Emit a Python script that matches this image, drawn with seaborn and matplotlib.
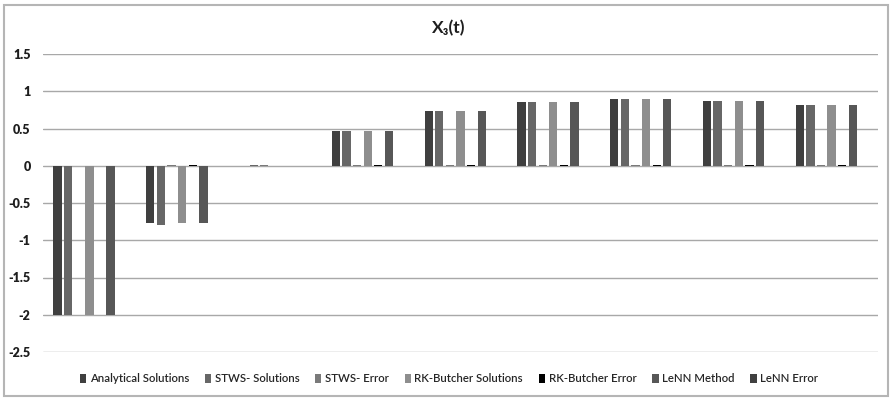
import numpy as np
import pandas as pd
import seaborn as sns
import matplotlib
matplotlib.use("Agg")
import matplotlib.pyplot as plt
from matplotlib.patches import Rectangle

# time steps (nine groups of bars)
steps = ["t1", "t2", "t3", "t4", "t5", "t6", "t7", "t8", "t9"]

analytical = [-2.0, -0.77, 0.0, 0.47, 0.73, 0.85, 0.89, 0.87, 0.81]
stws_sol = [-2.0, -0.79, 0.012, 0.47, 0.73, 0.85, 0.89, 0.87, 0.81]
stws_err = [0.0, 0.012, 0.012, 0.012, 0.012, 0.012, 0.012, 0.012, 0.012]
rk_sol = [-2.0, -0.77, 0.0, 0.47, 0.73, 0.85, 0.89, 0.87, 0.81]
rk_err = [0.0, 0.012, 0.0, 0.012, 0.012, 0.012, 0.012, 0.012, 0.012]
lenn_sol = [-2.0, -0.77, 0.0, 0.47, 0.73, 0.85, 0.89, 0.87, 0.81]
lenn_err = [0.0, 0.0, 0.0, 0.0, 0.0, 0.0, 0.0, 0.0, 0.0]

series_names = ["Analytical Solutions", "STWS- Solutions", "STWS- Error",
                "RK-Butcher Solutions", "RK-Butcher Error", "LeNN Method", "LeNN Error"]
series_values = [analytical, stws_sol, stws_err, rk_sol, rk_err, lenn_sol, lenn_err]
series_colors = ["#3f3f3f", "#676767", "#7a7a7a", "#8e8e8e", "#000000", "#575757", "#404040"]

df = pd.DataFrame(
    [(s, name, v) for name, vals in zip(series_names, series_values) for s, v in zip(steps, vals)],
    columns=["step", "series", "value"],
)

sns.set_theme(style="white")
plt.rcParams["font.family"] = ["Lato", "DejaVu Sans"]

fig = plt.figure(figsize=(8.9, 3.99), dpi=100)
W, H = 890, 399
ax = fig.add_axes([43 / W, (H - 352) / H, (878 - 43) / W, (352 - 54) / H])

sns.barplot(data=df, x="step", y="value", hue="series", order=steps,
            hue_order=series_names, palette=series_colors, width=0.8, gap=0.22,
            linewidth=0, ax=ax, legend=True, zorder=3)

ax.set_ylim(-2.5, 1.5)
ax.set_xlim(-0.5, len(steps) - 0.5)
ax.set_yticks(np.arange(-2.5, 1.51, 0.5))
ax.set_yticklabels(["-2.5", "-2", "-1.5", "-1", "-0.5", "0", "0.5", "1", "1.5"],
                   fontsize=9, fontweight="heavy", color="#1e1e1e")
ax.tick_params(axis="y", length=0, pad=9)
ax.set_xticks([])
ax.set_xlabel("")
ax.set_ylabel("")
ax.grid(axis="y", color="#a8a8a8", linewidth=1.0, zorder=0)
ax.set_axisbelow(True)
for sp in ax.spines.values():
    sp.set_visible(False)
ax.patch.set_alpha(0)

fig.text(449 / W, (H - 28) / H, "X₃(t)", fontsize=12.5, color="#1e1e1e",
         fontweight="bold", ha="center", va="center")

handles, labels = ax.get_legend_handles_labels()
ax.legend_.remove()
fig.legend(handles, labels, loc="center", bbox_to_anchor=(449 / W, (H - 379) / H),
           ncol=7, frameon=False, handlelength=0.55, handleheight=0.75,
           handletextpad=0.3, columnspacing=1.4, borderaxespad=0,
           prop={"weight": "semibold", "size": 8.2})

# chart frame
fig.patches.append(Rectangle((4 / W, (H - 396) / H), (888 - 4) / W, (396 - 5) / H,
                             transform=fig.transFigure, fill=False,
                             edgecolor="#b5b5b5", linewidth=1.5, zorder=0))

fig.savefig("out.png", dpi=100)
